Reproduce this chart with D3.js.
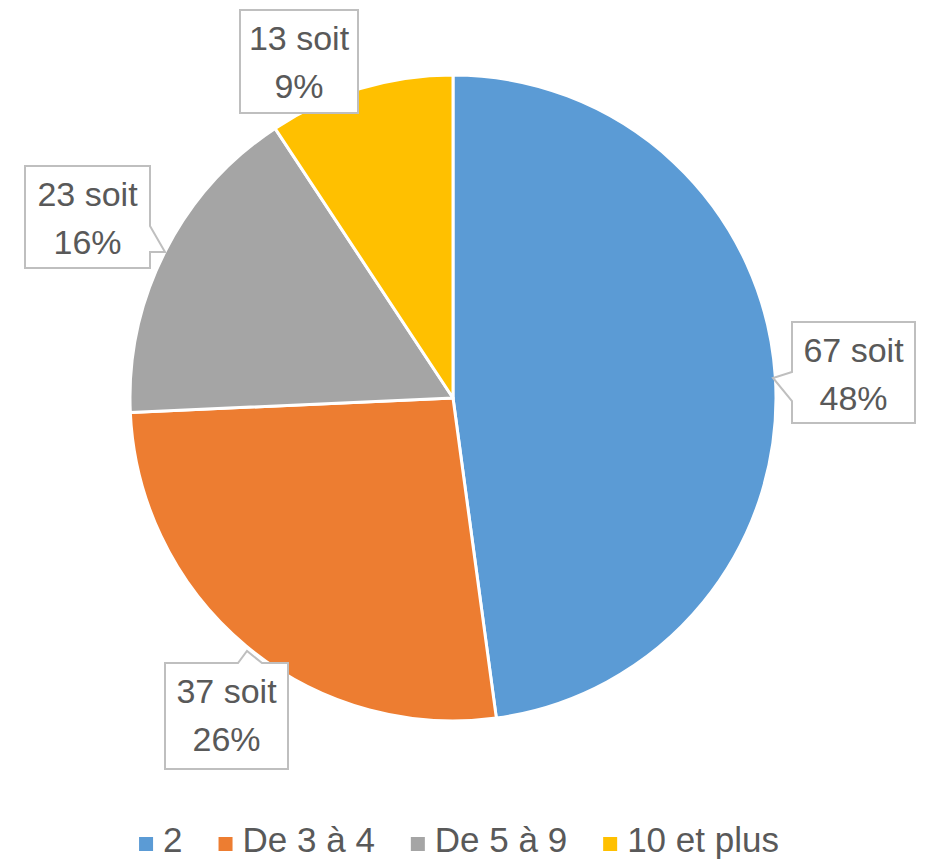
<!DOCTYPE html>
<html>
<head>
<meta charset="utf-8">
<script src="https://cdn.jsdelivr.net/npm/d3@7"></script>
<style>
  body { margin: 0; background: #fff; }
  svg text { font-family: "Liberation Sans", Arial, sans-serif; fill: #595959; }
</style>
</head>
<body>
<svg id="chart" width="928" height="860"></svg>
<script>
// data
var categories = ["2", "De 3 à 4", "De 5 à 9", "10 et plus"];
var values = [67, 37, 23, 13];
var percents = ["48%", "26%", "16%", "9%"];
var colors = ["#5B9BD5", "#ED7D31", "#A5A5A5", "#FFC000"];

// label callout boxes (layout): x, y, w, h and pointer triangle
var boxes = [
    {x: 792, y: 322, w: 123, h: 101, ptr: [[792, 372], [773, 378], [792, 401]]},
    {x: 165, y: 663, w: 123, h: 106, ptr: [[238, 663], [247, 651], [262, 663]]},
    {x: 25, y: 166, w: 125, h: 102, ptr: [[150, 226], [165, 252], [150, 252]]},
    {x: 240, y: 10, w: 118, h: 103, ptr: null}
];

var width = 928, height = 860;
var cx = 453, cy = 398, radius = 323;

var svg = d3.select("#chart");

var pie = d3.pie().sort(null).value(function(d) { return d; });
var arc = d3.arc().innerRadius(0).outerRadius(radius);

var g = svg.append("g").attr("transform", "translate(" + cx + "," + cy + ")");

g.selectAll("path.slice")
    .data(pie(values))
    .enter().append("path")
    .attr("class", "slice")
    .attr("d", arc)
    .attr("fill", function(d, i) { return colors[i]; })
    .attr("stroke", "#fff")
    .attr("stroke-width", 3)
    .attr("stroke-linejoin", "round");

// callouts
var lab = svg.selectAll("g.label")
    .data(values)
    .enter().append("g")
    .attr("class", "label");

lab.each(function(v, i) {
    var b = boxes[i];
    var sel = d3.select(this);
    // outline built as one path so the pointer merges with the box
    var p = d3.path();
    p.moveTo(b.x, b.y);
    if (b.ptr && b.ptr[0][1] === b.y) { // pointer on top edge
        p.lineTo(b.ptr[0][0], b.y); p.lineTo(b.ptr[1][0], b.ptr[1][1]); p.lineTo(b.ptr[2][0], b.y);
    }
    p.lineTo(b.x + b.w, b.y);
    if (b.ptr && b.ptr[0][0] === b.x + b.w) { // pointer on right edge
        p.lineTo(b.x + b.w, b.ptr[0][1]); p.lineTo(b.ptr[1][0], b.ptr[1][1]); p.lineTo(b.x + b.w, b.ptr[2][1]);
    }
    p.lineTo(b.x + b.w, b.y + b.h);
    p.lineTo(b.x, b.y + b.h);
    if (b.ptr && b.ptr[0][0] === b.x) { // pointer on left edge
        p.lineTo(b.x, b.ptr[2][1]); p.lineTo(b.ptr[1][0], b.ptr[1][1]); p.lineTo(b.x, b.ptr[0][1]);
    }
    p.closePath();
    sel.append("path")
        .attr("d", p.toString())
        .attr("fill", "#fff")
        .attr("stroke", "#BFBFBF")
        .attr("stroke-width", 2);
    var tx = b.x + b.w / 2;
    sel.append("text")
        .attr("x", tx).attr("y", b.y + 40)
        .attr("text-anchor", "middle")
        .attr("font-size", 34)
        .text(v + " soit");
    sel.append("text")
        .attr("x", tx).attr("y", b.y + 88)
        .attr("text-anchor", "middle")
        .attr("font-size", 34)
        .text(percents[i]);
});

// legend
var legend = svg.append("g").attr("class", "legend");
var items = legend.selectAll("g.item")
    .data(categories)
    .enter().append("g")
    .attr("class", "item");
items.append("rect")
    .attr("width", 14).attr("height", 14)
    .attr("y", -15)
    .attr("fill", function(d, i) { return colors[i]; });
items.append("text")
    .attr("x", 24)
    .attr("font-size", 35)
    .text(function(d) { return d; });

var gap = 36;
var xpos = 0;
items.each(function() {
    var w = this.getBBox().width;
    d3.select(this).attr("transform", "translate(" + xpos + ",0)");
    xpos += w + gap;
});
var total = xpos - gap;
legend.attr("transform", "translate(" + (459 - total / 2) + ",852)");
</script>
</body>
</html>
